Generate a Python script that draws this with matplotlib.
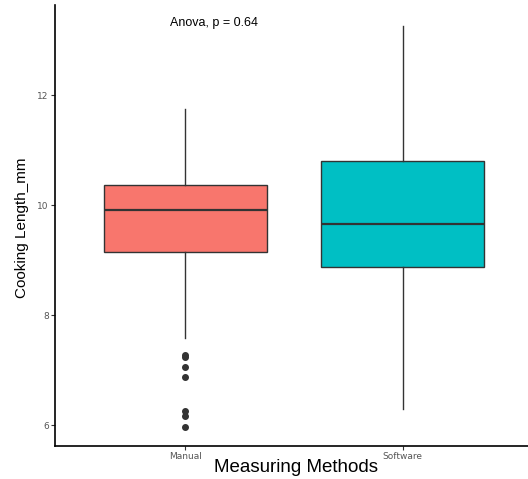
import matplotlib
matplotlib.use("Agg")
import matplotlib.pyplot as plt

categories = ["Manual", "Software"]
q1 = [9.14, 8.87]
median = [9.91, 9.65]
q3 = [10.36, 10.80]
whisker_low = [7.58, 6.29]
whisker_high = [11.75, 13.25]
outliers = [[7.27, 7.24, 7.06, 6.88, 6.26, 6.16, 5.97], []]
fill_colors = ["#F8766D", "#00BFC4"]
y_ticks = [6, 8, 10, 12]
annotation = "Anova, p = 0.64"

fig = plt.figure(figsize=(5.28, 4.79), dpi=100)
ax = fig.add_axes([55/528, 1 - 446/479, (533 - 55)/528, (446 - 5)/479])

stats = []
for i, c in enumerate(categories):
    stats.append(dict(label=c, q1=q1[i], med=median[i], q3=q3[i],
                      whislo=whisker_low[i], whishi=whisker_high[i],
                      fliers=outliers[i]))

line_col = "#333333"
bp = ax.bxp(stats, positions=[1, 2], widths=0.75, patch_artist=True,
            showcaps=False,
            boxprops=dict(edgecolor=line_col, linewidth=1.0),
            medianprops=dict(color=line_col, linewidth=1.6),
            whiskerprops=dict(color=line_col, linewidth=1.0),
            flierprops=dict(marker="o", markerfacecolor=line_col,
                            markeredgecolor=line_col, markersize=4.0))
for patch, col in zip(bp["boxes"], fill_colors):
    patch.set_facecolor(col)

ax.set_xlim(0.4, 2.6)
ax.set_ylim(5.62, 13.64)
ax.set_yticks(y_ticks)
ax.set_yticklabels([str(t) for t in y_ticks])
ax.set_xticks([1, 2])
ax.set_xticklabels(categories)
ax.tick_params(axis="both", labelsize=6.5, labelcolor="#555555", color="#333333",
               length=3, width=0.8, pad=1.5)

for s in ["top", "right"]:
    ax.spines[s].set_visible(False)
for s in ["left", "bottom"]:
    ax.spines[s].set_color("black")
    ax.spines[s].set_linewidth(1.2)

fig.text(296/528, 1 - 467/479, "Measuring Methods", ha="center", va="center",
         fontsize=13.5, family="Liberation Sans")
fig.text(22/528, 1 - 228/479, "Cooking Length_mm", ha="center", va="center",
         rotation=90, fontsize=11, family="Liberation Sans")

fig.text(214/528, 1 - 23/479, annotation, ha="center", va="center", fontsize=9,
         family="Liberation Sans")

fig.savefig("out.png", dpi=100)
